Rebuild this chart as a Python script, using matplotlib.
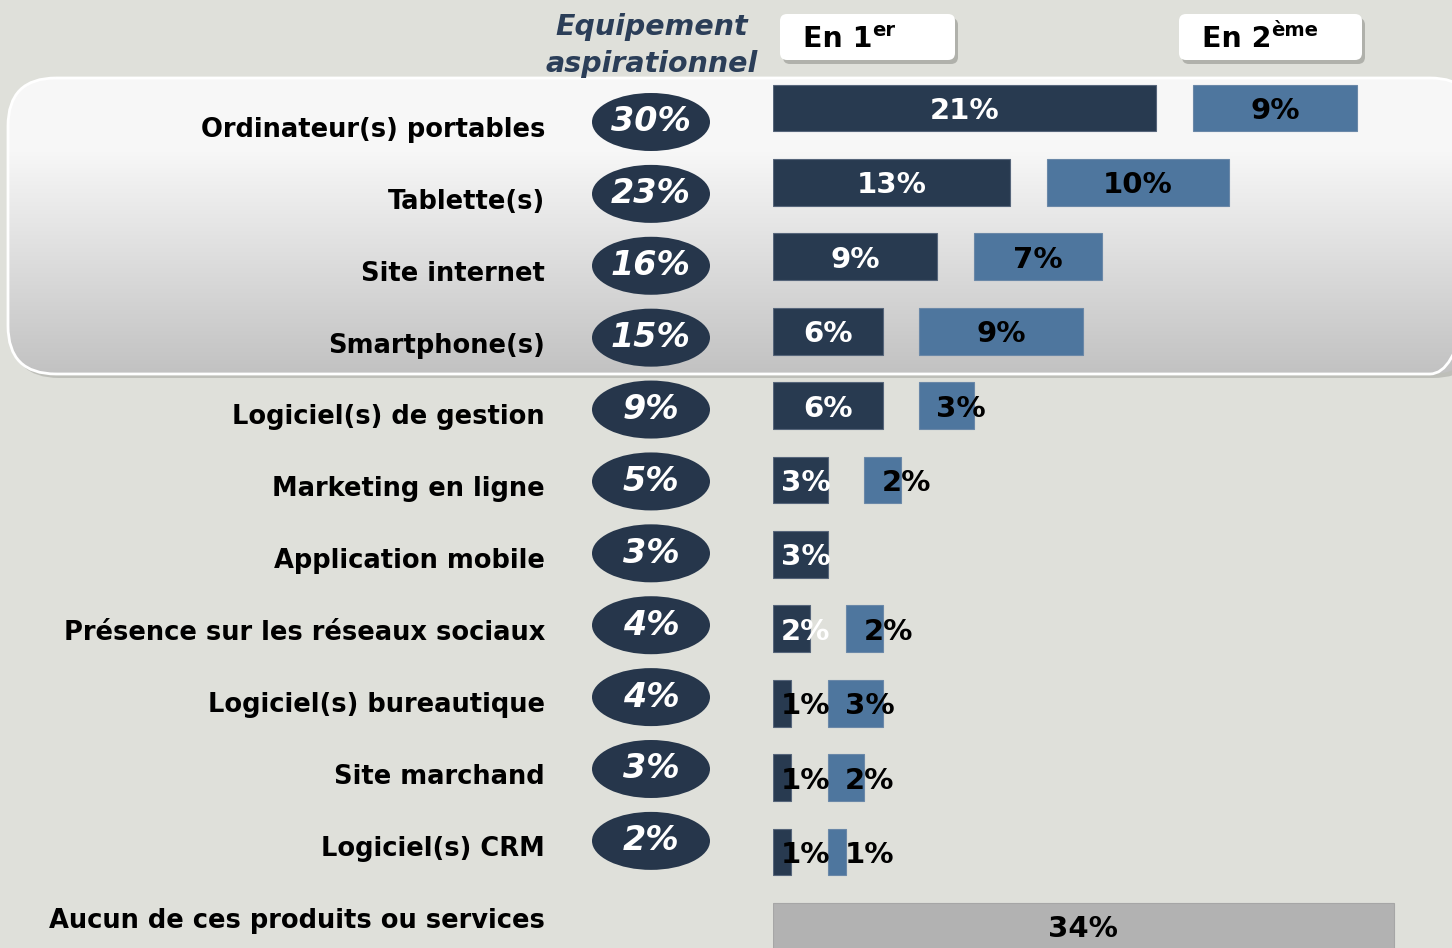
import numpy as np
import matplotlib.pyplot as plt
from matplotlib.patches import FancyBboxPatch, Ellipse

plt.rcParams['font.family'] = ['DejaVu Sans']

categories = ["Ordinateur(s) portables", "Tablette(s)", "Site internet",
              "Smartphone(s)", "Logiciel(s) de gestion", "Marketing en ligne",
              "Application mobile", "Présence sur les réseaux sociaux",
              "Logiciel(s) bureautique", "Site marchand", "Logiciel(s) CRM"]
none_label = "Aucun de ces produits ou services"
aspirational = [30, 23, 16, 15, 9, 5, 3, 4, 4, 3, 2]
first_choice = [21, 13, 9, 6, 6, 3, 3, 2, 1, 1, 1]
second_choice = [9, 10, 7, 9, 3, 2, 0, 2, 3, 2, 1]
none_share = 34
gap = 2

bg = '#dfe0da'
dark = '#283a50'
light = '#4e769e'
oval = '#26364b'
grey = '#b2b2b2'

W, H = 1452, 948
fig = plt.figure(figsize=(W / 100, H / 100), dpi=100)
fig.patch.set_facecolor(bg)

# background decorations in pixel coordinates
axb = fig.add_axes([0, 0, 1, 1])
axb.set_xlim(0, W)
axb.set_ylim(H, 0)
axb.axis('off')

shadow = FancyBboxPatch((11, 82), 1470, 296, boxstyle="round,pad=0,rounding_size=48",
                        facecolor='#a8a9a4', edgecolor='none', alpha=0.6, zorder=1)
axb.add_patch(shadow)
box = FancyBboxPatch((8, 78), 1470, 296, boxstyle="round,pad=0,rounding_size=48",
                     facecolor='none', edgecolor='white', lw=2, zorder=3)
axb.add_patch(box)
ys = np.linspace(78, 374, 300)
g = np.where(ys < 150, 0.97, 0.97 - (ys - 150) / (374 - 150) * (0.97 - 0.76))
img = np.repeat(g[:, None, None], 3, axis=2)
im = axb.imshow(img, extent=(8, 1478, 374, 78), aspect='auto', zorder=2)
im.set_clip_path(box)
axb.set_xlim(0, W)
axb.set_ylim(H, 0)

axb.text(652, 27, "Equipement", fontsize=20.5, fontweight='bold', style='italic',
         color='#2b3e58', ha='center', va='center', zorder=5)
axb.text(652, 64, "aspirationnel", fontsize=20.5, fontweight='bold', style='italic',
         color='#2b3e58', ha='center', va='center', zorder=5)

for (x0, w, main, sup) in [(780, 175, "En 1", "er"), (1179, 183, "En 2", "ème")]:
    axb.add_patch(FancyBboxPatch((x0 + 3, 18), w, 46, boxstyle="round,pad=0,rounding_size=7",
                                 facecolor='#9c9d98', edgecolor='none', alpha=0.7, zorder=4))
    axb.add_patch(FancyBboxPatch((x0, 14), w, 46, boxstyle="round,pad=0,rounding_size=7",
                                 facecolor='white', edgecolor='none', zorder=5))
    t = axb.text(x0 + 23, 39, main, fontsize=20.5, fontweight='bold', color='black',
                 ha='left', va='center', zorder=6)
    axb.annotate(sup, xy=(1, 0.45), xycoords=t, fontsize=14, fontweight='bold',
                 ha='left', va='bottom', zorder=6)

# labels and aspirational ovals
axl = fig.add_axes([0, 0, 1, 1])
axl.set_xlim(0, W)
axl.set_ylim(11.49, -1.697)
axl.axis('off')
axl.patch.set_alpha(0)
for i, (cat, a) in enumerate(zip(categories, aspirational)):
    axl.text(545, i + 0.11, cat, fontsize=18.5, fontweight='bold', ha='right', va='center', zorder=6)
    axl.add_patch(Ellipse((651, i), 118, 58 / 71.9, facecolor=oval, edgecolor='none', zorder=6))
    axl.text(651, i, f"{a}%", fontsize=24, fontweight='bold', style='italic', color='white',
             ha='center', va='center', zorder=7)
axl.text(545, 11 + 0.11, none_label, fontsize=18.5, fontweight='bold', ha='right', va='center', zorder=6)

# bars
ax = fig.add_axes([773 / W, 0, (W - 773) / W, 1])
ax.set_xlim(0, (W - 773) / 18.25)
ax.set_ylim((H - 108) / 74.4, -108 / 74.4)
ax.axis('off')
ax.patch.set_alpha(0)

y = np.arange(len(categories))
first = np.array(first_choice)
second = np.array(second_choice)
ax.barh(y, first, height=0.63, color=dark, edgecolor='#56657a', lw=0.8, zorder=3)
mask = second > 0
ax.barh(y[mask], second[mask], left=first[mask] + gap, height=0.63, color=light,
        edgecolor='#6a88a8', lw=0.8, zorder=3)
ax.barh([len(categories)], [none_share], height=0.63, color=grey, edgecolor='#a6a6a6', lw=0.8, zorder=3)

for i, (f, s) in enumerate(zip(first, second)):
    ax.text(max(f / 2, 1.8), i + 0.04, f"{f}%", fontsize=21, fontweight='bold',
            color='white' if f >= 2 else 'black', ha='center', va='center', zorder=5)
    if s > 0:
        ax.text(f + gap + max(s / 2, 2.3), i + 0.04, f"{s}%", fontsize=21, fontweight='bold',
                color='black', ha='center', va='center', zorder=5)
ax.text(none_share / 2, len(categories) + 0.04, f"{none_share}%", fontsize=21,
        fontweight='bold', ha='center', va='center', zorder=5)

fig.savefig('out.png', dpi=100, facecolor=bg)
